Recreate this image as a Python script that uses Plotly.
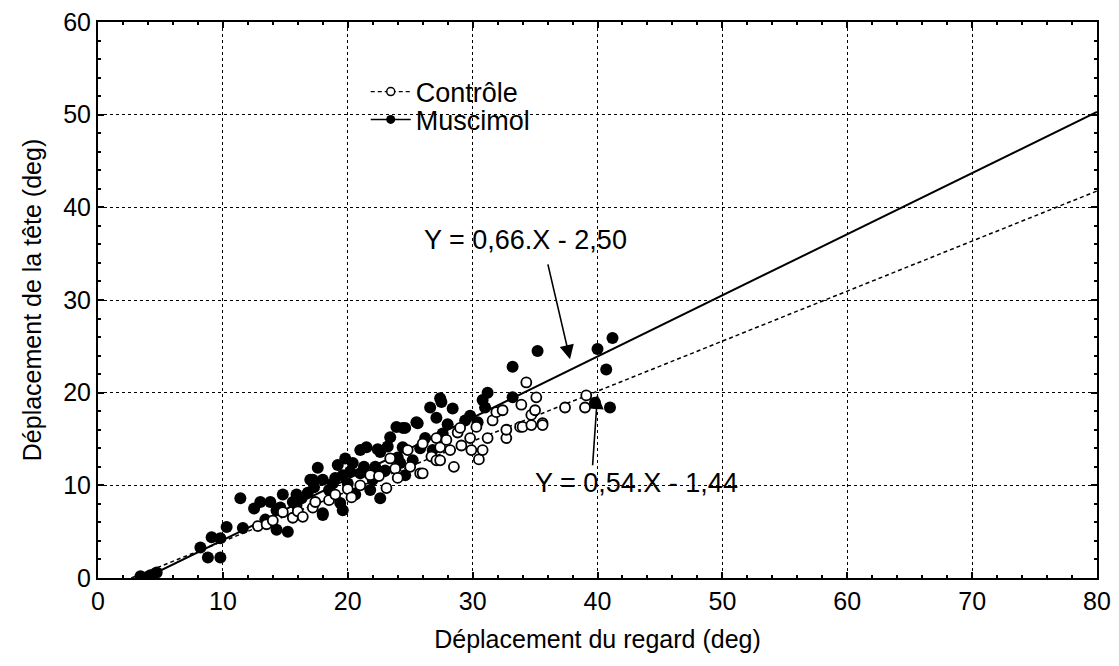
import plotly.graph_objects as go

# ---- Data ----
musc_x = [3.4, 4.2, 4.7, 8.2, 8.8, 9.1, 9.8, 9.8, 10.3, 11.4, 11.6, 12.5,
          13.0, 13.4, 13.8, 14.3, 14.3, 14.6, 14.8, 15.2, 15.6, 15.9, 15.9, 16.3,
          16.8, 17.0, 17.2, 17.3, 17.6, 18.0, 18.0, 18.0, 18.5, 18.8, 19.0, 19.2,
          19.4, 19.6, 19.6, 19.8, 20.0, 20.2, 20.4, 20.6, 21.0, 21.0, 21.3, 21.5,
          21.8, 22.0, 22.2, 22.4, 22.6, 22.6, 23.0, 23.2, 23.4, 23.9, 24.0, 24.2,
          24.4, 24.4, 24.6, 24.6, 25.2, 25.5, 25.6, 25.8, 26.2, 26.6, 26.8, 27.1,
          27.4, 27.5, 27.6, 28.0, 28.4, 29.4, 29.8, 30.4, 30.8, 31.0, 31.2, 33.2,
          33.2, 35.2, 39.8, 40.0, 40.7, 41.0, 41.2]
musc_y = [0.2, 0.3, 0.6, 3.3, 2.2, 4.4, 4.3, 2.2, 5.5, 8.6, 5.4, 7.5,
          8.2, 6.3, 8.2, 7.3, 5.2, 7.6, 9.0, 5.0, 8.2, 7.9, 9.0, 8.6,
          9.2, 10.6, 10.6, 9.8, 11.9, 6.8, 10.6, 7.0, 9.5, 10.2, 10.8, 12.2,
          8.1, 11.1, 7.3, 12.9, 10.2, 11.5, 12.4, 9.0, 13.8, 11.3, 12.0, 14.1,
          9.5, 10.6, 12.0, 13.9, 13.6, 8.6, 11.6, 14.2, 15.2, 16.3, 13.0, 12.4,
          16.2, 14.1, 16.2, 11.1, 12.7, 16.8, 16.7, 14.0, 15.1, 18.4, 13.8, 17.3,
          19.4, 19.0, 15.6, 16.6, 18.3, 17.0, 17.5, 16.8, 19.2, 18.4, 20.0, 19.5,
          22.8, 24.5, 18.9, 24.7, 22.5, 18.4, 25.9]

ctrl_x = [12.8, 13.5, 14.0, 14.8, 15.6, 16.0, 16.4, 17.2, 17.4, 18.5, 19.0, 20.0,
          20.3, 21.0, 21.8, 22.5, 23.1, 23.4, 23.8, 24.0, 24.8, 25.0, 25.8, 26.0,
          26.0, 26.7, 27.1, 27.1, 27.4, 27.4, 27.9, 28.2, 28.5, 28.8, 29.0, 29.1,
          29.8, 29.9, 30.3, 30.5, 30.8, 31.2, 31.6, 31.9, 32.4, 32.7, 32.7, 33.8,
          33.9, 34.0, 34.3, 34.7, 34.7, 35.0, 35.1, 35.6, 35.6, 37.4, 39.0, 39.1]
ctrl_y = [5.6, 5.8, 6.2, 7.1, 6.5, 7.2, 6.6, 7.6, 8.2, 8.4, 9.0, 9.6,
          8.7, 10.0, 11.1, 11.0, 9.7, 12.9, 11.8, 10.8, 13.8, 12.0, 11.3, 11.3,
          14.5, 13.1, 15.1, 12.7, 12.7, 14.1, 14.9, 13.8, 12.0, 15.7, 16.2, 14.3,
          15.1, 13.8, 16.3, 12.8, 13.8, 15.1, 17.0, 17.9, 18.1, 15.1, 16.0, 16.3,
          18.7, 16.3, 21.1, 16.5, 17.6, 18.1, 19.5, 16.7, 16.5, 18.4, 18.4, 19.7]

# regression equations (slope, intercept) as printed on the chart
musc_fit = (0.66, -2.50)
ctrl_fit = (0.54, -1.44)
x_max = 80

x_ticks = [0, 10, 20, 30, 40, 50, 60, 70, 80]
y_ticks = [0, 10, 20, 30, 40, 50, 60]

def fit_line(fit):
    a, b = fit
    x0 = -b / a
    xs = [x0, x_max]
    return xs, [a * v + b for v in xs]

FONT = "Liberation Sans, Arial, sans-serif"
FS = 25      # axis text
FS2 = 27     # legend / equation text
fig = go.Figure()

mx, my = fit_line(musc_fit)
cx, cy = fit_line(ctrl_fit)
fig.add_trace(go.Scatter(x=cx, y=cy, mode="lines", showlegend=False,
                         line=dict(color="black", width=1.5, dash="4px,3px")))
fig.add_trace(go.Scatter(x=mx, y=my, mode="lines", showlegend=False,
                         line=dict(color="black", width=2)))

fig.add_trace(go.Scatter(x=musc_x, y=musc_y, mode="markers", showlegend=False,
                         marker=dict(color="black", size=12, line=dict(width=0))))
fig.add_trace(go.Scatter(x=ctrl_x, y=ctrl_y, mode="markers", showlegend=False,
                         marker=dict(color="white", size=10,
                                     line=dict(color="black", width=1.8))))

# legend entries (two separate legends so their spacing matches the original)
fig.add_trace(go.Scatter(x=[None], y=[None], mode="lines+markers", name="Contrôle",
                         legend="legend",
                         line=dict(color="black", width=1.2, dash="4px,3px"),
                         marker=dict(color="white", size=8, line=dict(color="black", width=1.5))))
fig.add_trace(go.Scatter(x=[None], y=[None], mode="lines+markers", name="Muscimol",
                         legend="legend2",
                         line=dict(color="black", width=1.5),
                         marker=dict(color="black", size=9)))

fig.add_annotation(x=37.8, y=23.6, ax=36.0, ay=34.0, xref="x", yref="y",
                   axref="x", ayref="y", showarrow=True, arrowhead=2,
                   arrowsize=1.8, arrowwidth=1.6, arrowcolor="black", text="")
fig.add_annotation(x=34.2, y=36.5, xref="x", yref="y", showarrow=False,
                   text="Y = 0,66.X - 2,50", font=dict(family=FONT, size=FS2, color="black"))
fig.add_annotation(x=40.0, y=19.8, ax=39.6, ay=12.0, xref="x", yref="y",
                   axref="x", ayref="y", showarrow=True, arrowhead=2,
                   arrowsize=1.8, arrowwidth=1.6, arrowcolor="black", text="")
fig.add_annotation(x=43.1, y=10.2, xref="x", yref="y", showarrow=False,
                   text="Y = 0,54.X - 1,44", font=dict(family=FONT, size=FS2, color="black"))

axis_common = dict(
    showline=True, linecolor="black", linewidth=2, mirror="ticks",
    ticks="inside", ticklen=6, tickcolor="black", tickwidth=1.5,
    showgrid=True, gridcolor="black", gridwidth=1.4, griddash="dot",
    zeroline=False, automargin=False, ticklabeloverflow="allow",
    tickfont=dict(family=FONT, size=FS, color="black"),
    minor=dict(ticks="inside", ticklen=3, tickcolor="black", dtick=2, showgrid=False),
)

fig.update_xaxes(range=[0, 80], tickvals=x_ticks, ticktext=[str(v) for v in x_ticks],
                 title=dict(text="Déplacement du regard (deg)", standoff=16,
                            font=dict(family=FONT, size=FS, color="black")),
                 **axis_common)
fig.update_yaxes(range=[0, 60], tickvals=y_ticks, ticktext=[str(v) for v in y_ticks],
                 title=dict(text="Déplacement de la tête (deg)", standoff=14,
                            font=dict(family=FONT, size=FS, color="black")),
                 **axis_common)

legend_common = dict(xanchor="left", yanchor="middle", bgcolor="rgba(0,0,0,0)",
                     itemwidth=40, font=dict(family=FONT, size=FS2, color="black"))

# the page body has an 8px margin, so the figure is sized/offset accordingly
fig.update_layout(
    width=1111, height=658,
    margin=dict(l=90, r=22, t=14, b=88),
    paper_bgcolor="white", plot_bgcolor="white",
    legend=dict(x=0.268, y=0.874, **legend_common),
    legend2=dict(x=0.268, y=0.824, **legend_common),
    font=dict(family=FONT, color="black"),
)

fig.write_html("out.html")
